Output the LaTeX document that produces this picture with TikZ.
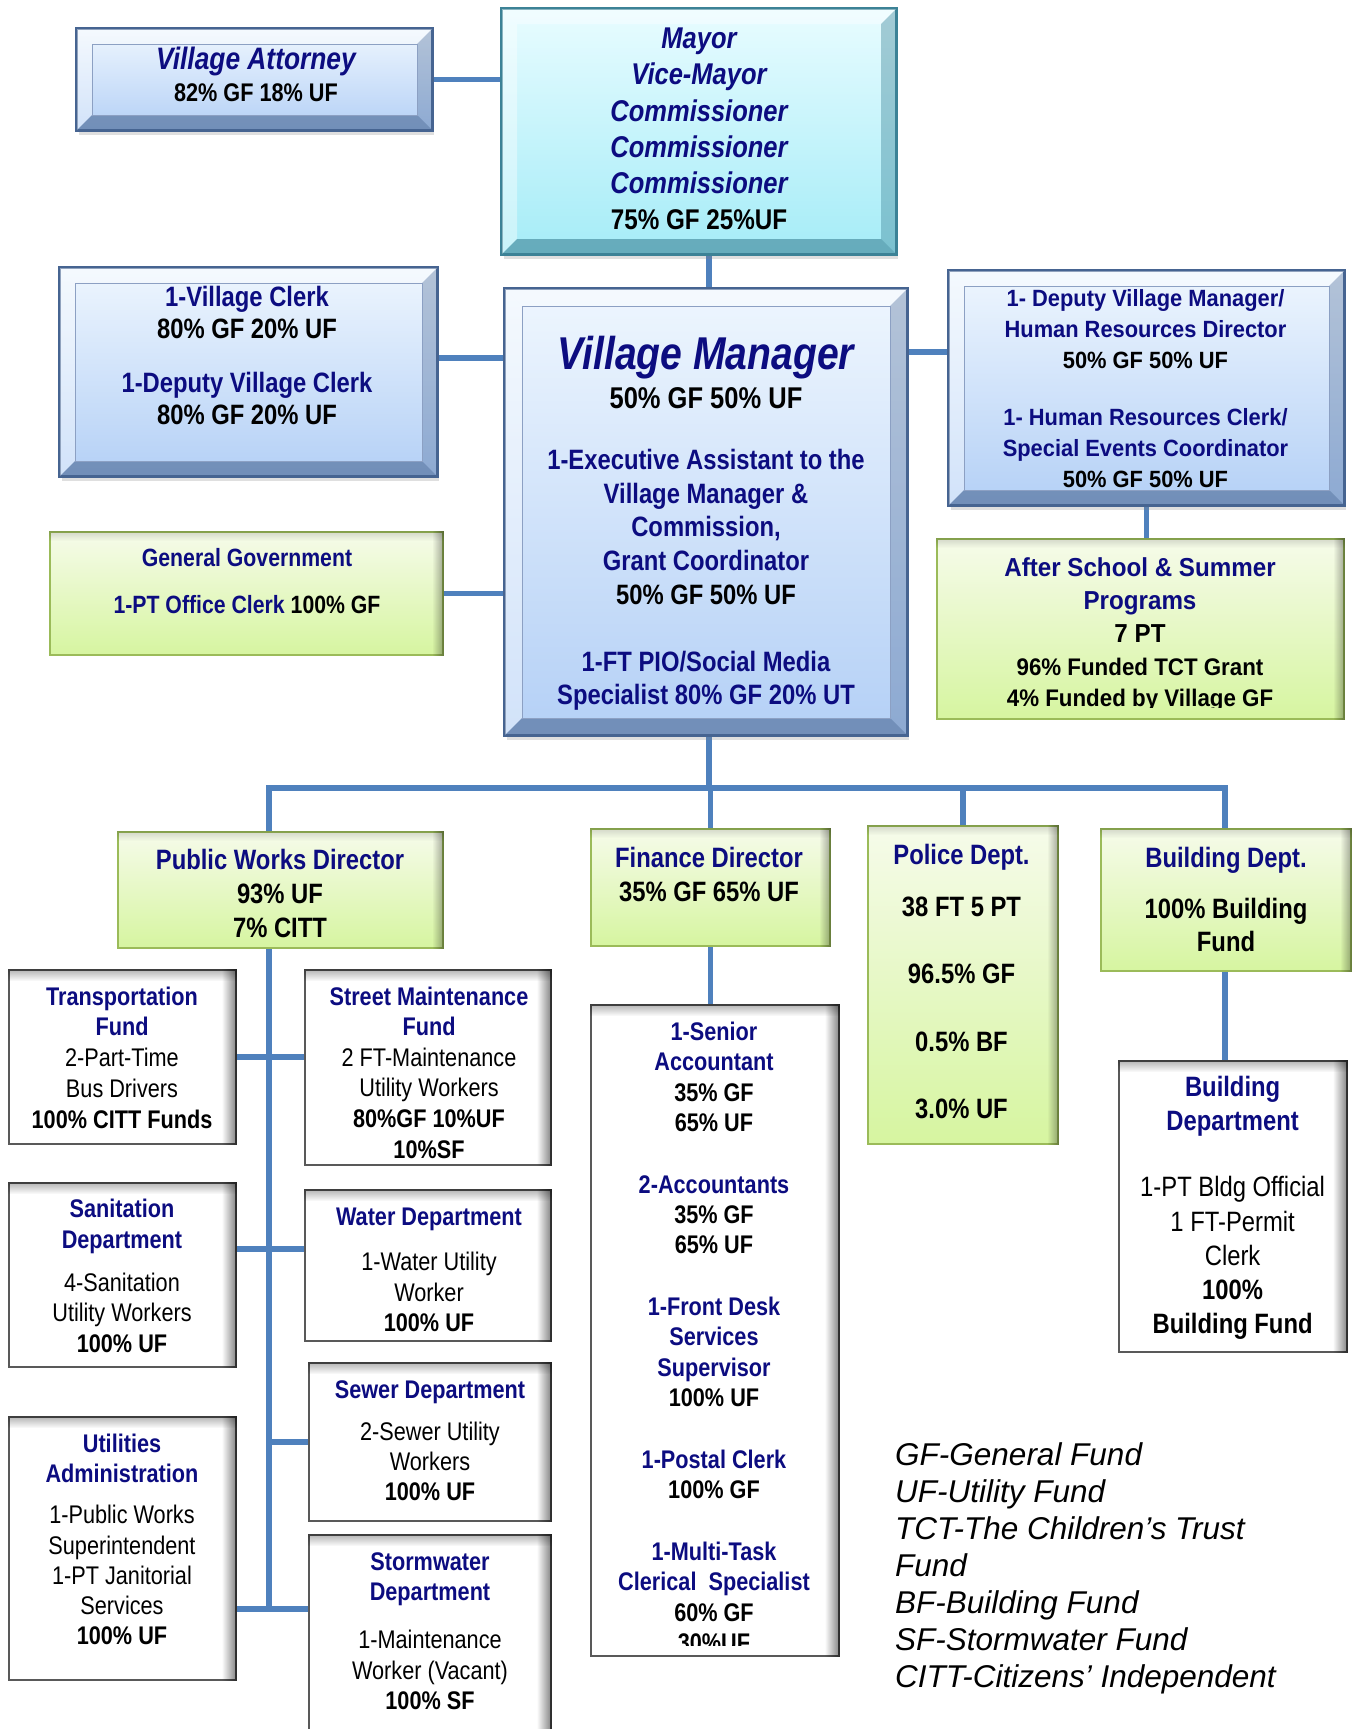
\documentclass[tikz,border=0pt]{standalone}
\usepackage{fontspec}
\setmainfont{Liberation Sans}
\newfontfamily\nar[FakeStretch=0.85]{Liberation Sans}
\newfontfamily\wid[FakeStretch=0.93]{Liberation Sans}
\usetikzlibrary{shadows,fadings}
\pgfdeclarelayer{bg}
\pgfsetlayers{bg,main}
\definecolor{navy}{RGB}{12,12,128}
\definecolor{connblue}{RGB}{79,129,189}
\definecolor{bluetop}{RGB}{238,246,254}
\definecolor{bluebot}{RGB}{180,208,246}
\definecolor{blueedge}{RGB}{70,100,145}
\definecolor{blueinner}{RGB}{140,160,195}
\definecolor{cyantop}{RGB}{232,252,255}
\definecolor{cyanbot}{RGB}{165,236,247}
\definecolor{cyanedge}{RGB}{60,130,150}
\definecolor{greentop}{RGB}{246,251,234}
\definecolor{greenbot}{RGB}{214,245,160}
\definecolor{greenedge}{RGB}{155,187,89}
\newcommand\fsz[2]{\fontsize{#1}{#2}\selectfont}
\tikzset{
  connector/.style={draw=connblue, line width=5.5pt, line join=miter},
  txt/.style={inner sep=0pt, align=center, anchor=north},
  bluebox/.style={draw=blueedge, line width=2pt, top color=bluetop, bottom color=bluebot, inner sep=0pt,
    drop shadow={shadow xshift=2pt, shadow yshift=-5pt, opacity=0.25}},
  cyanbox/.style={draw=cyanedge, line width=2pt, top color=cyantop, bottom color=cyanbot, inner sep=0pt,
    drop shadow={shadow xshift=2pt, shadow yshift=-5pt, opacity=0.25}},
  greenbox/.style={draw=greenedge, line width=2pt, top color=greentop, bottom color=greenbot, inner sep=0pt},
  whitebox/.style={draw=black!65, line width=1.5pt, fill=white, inner sep=0pt},
  bevlight/.style={white, opacity=0.4},
  bevright/.style={blueedge, opacity=0.35},
  bevbottom/.style={blueedge, opacity=0.6},
  cbevright/.style={cyanedge, opacity=0.4},
  cbevbottom/.style={cyanedge, opacity=0.6},
  innerline/.style={draw=blueinner, line width=1pt},
}
\newcommand\bevel[5]{%
  \fill[#3] (#1.north west) -- (#1.north east) -- ([shift={(-#2,#2)}]#1.north east) -- ([shift={(#2,#2)}]#1.north west) -- cycle;
  \fill[#3] (#1.north west) -- ([shift={(#2,#2)}]#1.north west) -- ([shift={(#2,-#2)}]#1.south west) -- (#1.south west) -- cycle;
  \fill[#4] (#1.north east) -- ([shift={(-#2,#2)}]#1.north east) -- ([shift={(-#2,-#2)}]#1.south east) -- (#1.south east) -- cycle;
  \fill[#5] (#1.south west) -- ([shift={(#2,-#2)}]#1.south west) -- ([shift={(-#2,-#2)}]#1.south east) -- (#1.south east) -- cycle;
}
\newcommand\bluefx[2]{%
  \bevel{#1}{#2}{bevlight}{bevright}{bevbottom}
  \draw[innerline] ([shift={(#2,#2)}]#1.north west) rectangle ([shift={(-#2,-#2)}]#1.south east);
  \draw[blueedge, line width=2pt] (#1.north west) rectangle (#1.south east);
}
\newcommand\rshade[3]{\fill[black, opacity=#3, path fading=west] ([xshift=-#2pt]#1.north east) rectangle (#1.south east);}
\newcommand\tshade[3]{\fill[black, opacity=#3, path fading=south] (#1.north west) rectangle ([yshift=-#2pt]#1.north east);}
\newcommand\greenfx[1]{\rshade{#1}{12}{0.35}\tshade{#1}{10}{0.15}}
\newcommand\whitefx[1]{\rshade{#1}{15}{0.5}\tshade{#1}{12}{0.3}}
\begin{document}
\begin{tikzpicture}[x=1pt,y=-1pt]
\useasboundingbox (0,0) rectangle (1355,1729);
\begin{pgfonlayer}{bg}
\fill[white] (0,0) rectangle (1355,1729);
\end{pgfonlayer}
% boxes
\node[cyanbox, minimum width=394pt, minimum height=245pt] (mayor) at (699,131.5) {};
\node[bluebox, minimum width=355pt, minimum height=101pt] (va) at (254.5,79.5) {};
\node[bluebox, minimum width=377pt, minimum height=208pt] (clerk) at (248.5,372) {};
\node[bluebox, minimum width=402pt, minimum height=446pt] (vm) at (706,512) {};
\node[bluebox, minimum width=395pt, minimum height=234pt] (dvm) at (1146.5,388) {};
\node[greenbox, minimum width=393pt, minimum height=123pt] (gg) at (246.5,593.5) {};
\node[greenbox, minimum width=407pt, minimum height=180pt] (as) at (1140.5,629) {};
\node[greenbox, minimum width=325pt, minimum height=116pt] (pw) at (280.5,890) {};
\node[greenbox, minimum width=239pt, minimum height=117pt] (fin) at (710.5,887.5) {};
\node[greenbox, minimum width=190pt, minimum height=318pt] (pol) at (963,985) {};
\node[greenbox, minimum width=250pt, minimum height=142pt] (bld) at (1226,900) {};
\node[whitebox, minimum width=227pt, minimum height=174pt] (tr) at (122.5,1057) {};
\node[whitebox, minimum width=246pt, minimum height=195pt] (st) at (428,1067.5) {};
\node[whitebox, minimum width=227pt, minimum height=184pt] (san) at (122.5,1275) {};
\node[whitebox, minimum width=246pt, minimum height=151pt] (wat) at (428,1265.5) {};
\node[whitebox, minimum width=242pt, minimum height=158pt] (sew) at (430,1442) {};
\node[whitebox, minimum width=227pt, minimum height=263pt] (util) at (122.5,1548.5) {};
\node[whitebox, minimum width=242pt, minimum height=200pt] (storm) at (430,1635) {};
\node[whitebox, minimum width=248pt, minimum height=651pt] (fstaff) at (715,1330.5) {};
\node[whitebox, minimum width=228pt, minimum height=291pt] (bdep) at (1233,1206.5) {};
% effects
\bevel{mayor}{16}{bevlight}{cbevright}{cbevbottom}
\draw[cyanedge, line width=2pt] (mayor.north west) rectangle (mayor.south east);
\bluefx{va}{16}
\bluefx{clerk}{16}
\bluefx{vm}{18}
\bluefx{dvm}{16}
\greenfx{gg}\greenfx{as}\greenfx{pw}\greenfx{fin}\greenfx{pol}\greenfx{bld}
\whitefx{tr}\whitefx{st}\whitefx{san}\whitefx{wat}\whitefx{sew}\whitefx{util}\whitefx{storm}\whitefx{fstaff}\whitefx{bdep}
% connectors
\coordinate (busL) at (269,788);
\coordinate (busR) at (1225,788);
\coordinate (spineEnd) at (269,1609);
\begin{pgfonlayer}{bg}
\draw[connector] (va.east) -- (va.east -| mayor.west);
\draw[connector] ([xshift=3pt]vm.north) coordinate (c0) -- (c0 |- mayor.south);
\draw[connector] ([yshift=14pt]clerk.east) coordinate (c1) -- (c1 -| vm.west);
\draw[connector] ([yshift=36pt]dvm.west) coordinate (c2) -- (c2 -| vm.east);
\draw[connector] (gg.east) -- (gg.east -| vm.west);
\draw[connector] (dvm.south) -- (dvm.south |- as.north);
\draw[connector] ([xshift=3pt]vm.south) coordinate (c4) -- (c4 |- busL);
\draw[connector] (pw.north -| busL) -- (busL) -- (busR) -- (bld.north -| busR);
\draw[connector] (fin.north) -- (fin.north |- busL);
\draw[connector] (pol.north) -- (pol.north |- busL);
\draw[connector] (pw.south -| busL) -- (spineEnd);
\draw[connector] (tr.east) -- (tr.east -| st.west);
\draw[connector] ([yshift=26pt]san.east) coordinate (c3) -- (c3 -| wat.west);
\draw[connector] (sew.west) -- (sew.west -| busL);
\draw[connector] (util.east |- spineEnd) -- (storm.west |- spineEnd);
\draw[connector] (fin.south) -- (fin.south |- fstaff.north);
\draw[connector] (bld.south -| busR) -- (busR |- bdep.north);
\end{pgfonlayer}
% texts
\node[txt, font=\nar\bfseries\fsz{25.5}{32}] (vaT) at (256,47.2)
 {{\fsz{31}{31}\itshape\color{navy}Village Attorney}\\ 82\% GF 18\% UF};
\node[txt, font=\nar\bfseries\itshape\fsz{30}{36.2}, text=navy] (mayorT) at (699,27.8)
 {Mayor\\ Vice-Mayor\\ Commissioner\\ Commissioner\\ Commissioner\\ {\upshape\color{black}\fsz{28.5}{28.5}75\% GF 25\%UF}};
\node[txt, font=\nar\bfseries\fsz{28}{32}] (clerkT) at (247,286.5)
 {{\color{navy}1-Village Clerk}\\ 80\% GF 20\% UF\\[22pt] {\color{navy}1-Deputy Village Clerk}\\ 80\% GF 20\% UF};
\node[txt, font=\nar\bfseries\fsz{28}{33.6}] (vmT) at (706,336.2)
 {{\fsz{46}{46}\itshape\color{navy}Village Manager}\\[4.8pt] {\fsz{30}{30}50\% GF 50\% UF}\\[28pt]
  {\color{navy}1-Executive Assistant to the}\\ {\color{navy}Village Manager \&}\\ {\color{navy}Commission,}\\
  {\color{navy}Grant Coordinator}\\ 50\% GF 50\% UF\\[33.6pt]
  {\color{navy}1-FT PIO/Social Media}\\ {\color{navy}Specialist 80\% GF 20\% UT}};
\node[txt, font=\wid\bfseries\fsz{23.5}{30.9}, text=navy] (dvmT) at (1145.5,289.2)
 {1- Deputy Village Manager/\\ Human Resources Director\\ {\color{black}50\% GF 50\% UF}\\[26.4pt]
  1- Human Resources Clerk/\\ Special Events Coordinator\\ {\color{black}50\% GF 50\% UF}};
\node[txt, font=\nar\bfseries\fsz{25}{47.4}] (ggT) at (247,547.8)
 {{\color{navy}General Government}\\ {\color{navy}1-PT Office Clerk} 100\% GF};
\begin{scope}
\clip (as.north west) rectangle ([yshift=13pt]as.south east);
\node[txt, font=\wid\bfseries\fsz{24}{33}] (asT) at (1140,557.3)
 {{\fsz{26}{26}\color{navy}After School \& Summer}\\ {\fsz{26}{26}\color{navy}Programs}\\ {\fsz{26}{26}7 PT}\\
  96\% Funded TCT Grant\\[-2pt] 4\% Funded by Village GF};
\end{scope}
\node[txt, font=\nar\bfseries\fsz{28}{34.2}] (pwT) at (280,848.8)
 {{\color{navy}Public Works Director}\\ 93\% UF\\ 7\% CITT};
\node[txt, font=\nar\bfseries\fsz{28}{34.2}] (finT) at (709,846.6)
 {{\color{navy}Finance Director}\\ 35\% GF 65\% UF};
\node[txt, font=\nar\bfseries\fsz{28}{33.6}] (polT) at (961.5,844.3)
 {{\color{navy}Police Dept.}\\[18.3pt] 38 FT 5 PT\\[33.6pt] 96.5\% GF\\[33.6pt] 0.5\% BF\\[33.6pt] 3.0\% UF};
\node[txt, font=\nar\bfseries\fsz{28}{33}] (bldT) at (1226,846.5)
 {{\color{navy}Building Dept.}\\[18.9pt] 100\% Building\\ Fund};
\node[txt, font=\nar\fsz{25.5}{30.9}] (trT) at (122,986.4)
 {{\bfseries\color{navy}Transportation}\\ {\bfseries\color{navy}Fund}\\ 2-Part-Time\\ Bus Drivers\\ {\bfseries 100\% CITT Funds}};
\node[txt, font=\nar\fsz{25.5}{30.6}] (stT) at (429,986.4)
 {{\bfseries\color{navy}Street Maintenance}\\ {\bfseries\color{navy}Fund}\\ 2 FT-Maintenance\\ Utility Workers\\ {\bfseries 80\%GF 10\%UF}\\ {\bfseries 10\%SF}};
\node[txt, font=\nar\fsz{25.5}{30.6}] (sanT) at (122,1199.1)
 {{\bfseries\color{navy}Sanitation}\\ {\bfseries\color{navy}Department}\\[12.4pt] 4-Sanitation\\ Utility Workers\\ {\bfseries 100\% UF}};
\node[txt, font=\nar\fsz{25.5}{30.3}] (watT) at (429,1208)
 {{\bfseries\color{navy}Water Department}\\[14.9pt] 1-Water Utility\\ Worker\\ {\bfseries 100\% UF}};
\node[txt, font=\nar\fsz{25.5}{29.8}] (sewT) at (430,1380)
 {{\bfseries\color{navy}Sewer Department}\\[13.1pt] 2-Sewer Utility\\ Workers\\ {\bfseries 100\% UF}};
\node[txt, font=\nar\fsz{25.5}{30.3}] (utilT) at (122,1434)
 {{\bfseries\color{navy}Utilities}\\ {\bfseries\color{navy}Administration}\\[10.5pt] 1-Public Works\\ Superintendent\\ 1-PT Janitorial\\ Services\\ {\bfseries 100\% UF}};
\node[txt, font=\nar\fsz{25.5}{30.3}] (stormT) at (430,1552)
 {{\bfseries\color{navy}Stormwater}\\ {\bfseries\color{navy}Department}\\[18.2pt] 1-Maintenance\\ Worker (Vacant)\\ {\bfseries 100\% SF}};
\begin{scope}
\clip (fstaff.north west) rectangle ([yshift=11pt]fstaff.south east);
\node[txt, font=\nar\bfseries\fsz{25.5}{30.4}, text=navy] (fstaffT) at (714,1021.6)
 {1-Senior\\ Accountant\\ {\color{black}35\% GF}\\ {\color{black}65\% UF}\\[31.2pt]
  2-Accountants\\ {\color{black}35\% GF}\\ {\color{black}65\% UF}\\[31.2pt]
  1-Front Desk\\ Services\\ Supervisor\\ {\color{black}100\% UF}\\[31.2pt]
  1-Postal Clerk\\ {\color{black}100\% GF}\\[31.2pt]
  1-Multi-Task\\ Clerical~~Specialist\\ {\color{black}60\% GF}\\ {\color{black}30\%UF}};
\end{scope}
\node[txt, font=\nar\fsz{28}{34.2}] (bdepT) at (1232.6,1075.9)
 {{\bfseries\color{navy}Building}\\ {\bfseries\color{navy}Department}\\[32pt] 1-PT Bldg Official\\ 1 FT-Permit\\ Clerk\\ {\bfseries 100\%}\\ {\bfseries Building Fund}};
\node[inner sep=0pt, align=left, anchor=north west, font=\itshape\fsz{31.5}{36.9}] (legend) at (895,1442.9)
 {GF-General Fund\\ UF-Utility Fund\\ TCT-The Children’s Trust\\ Fund\\ BF-Building Fund\\ SF-Stormwater Fund\\ CITT-Citizens’ Independent};
\end{tikzpicture}
\end{document}
